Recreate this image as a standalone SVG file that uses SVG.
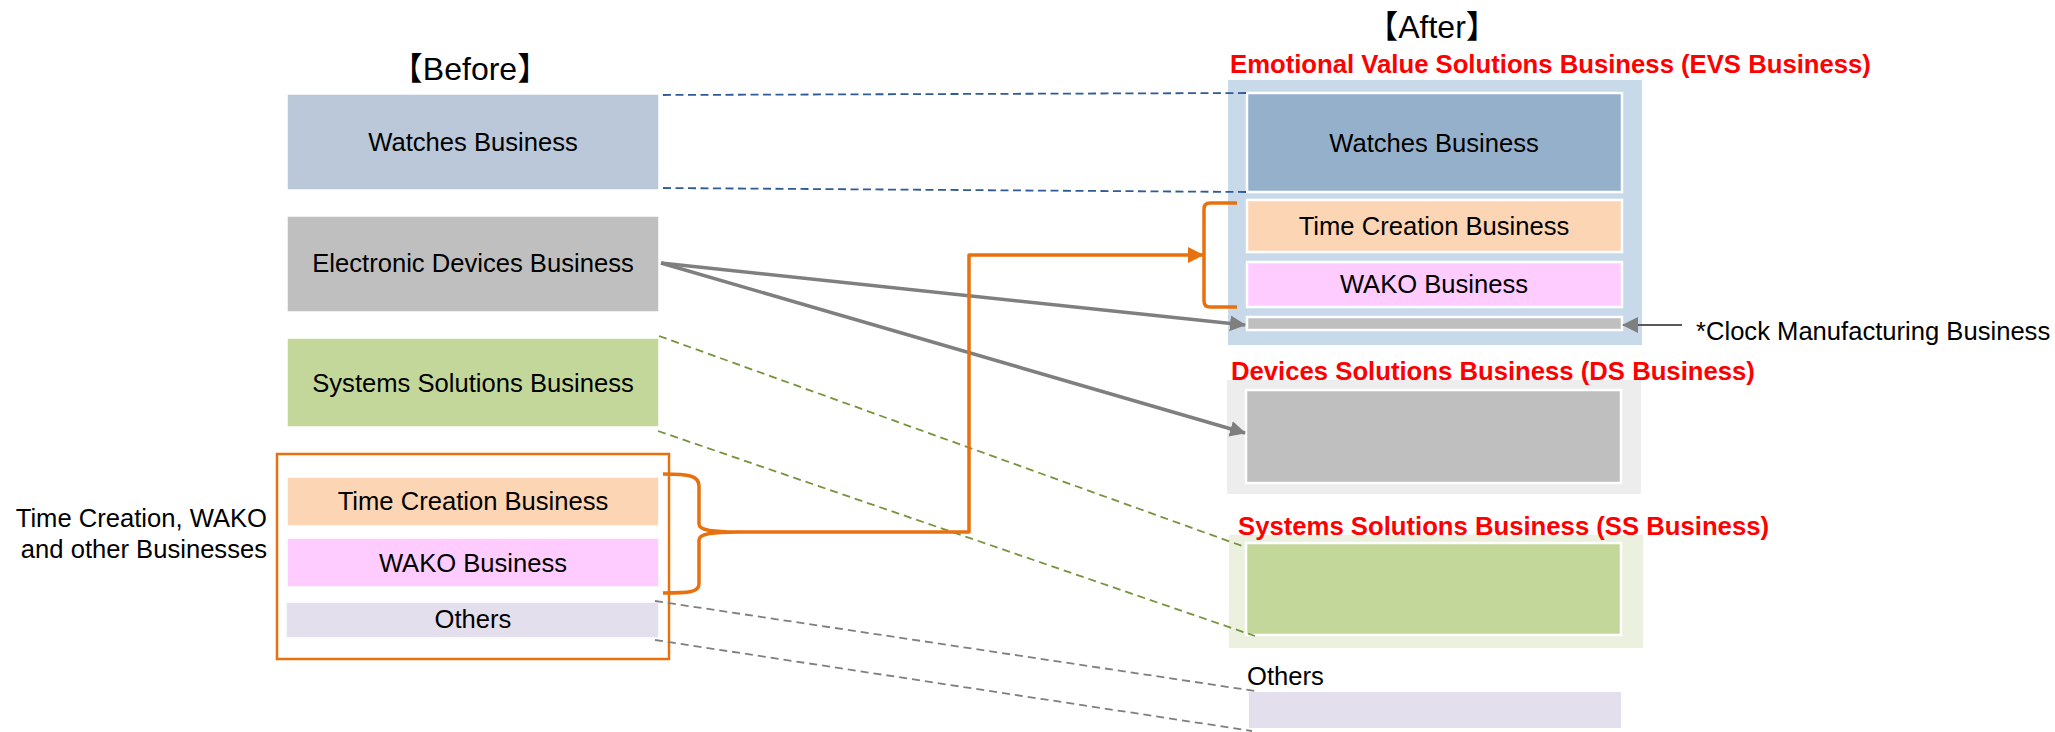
<svg xmlns="http://www.w3.org/2000/svg" width="2055" height="732" viewBox="0 0 2055 732">
<style>
text{font-family:"Liberation Sans","Noto Sans CJK JP",Arial,sans-serif;fill:#000}
.lbl{font-size:25.6px;text-anchor:middle}
.ttl{font-size:32px;text-anchor:middle}
.red{font-size:25.7px;font-weight:bold;fill:#FF0000}
.box{stroke:#FFFFFF;stroke-width:1.5}
.inner{stroke:#FFFFFF;stroke-width:2.5}
.orange{fill:none;stroke:#E8710F;stroke-width:3.5;stroke-linejoin:round}
.garrow{fill:none;stroke:#7F7F7F;stroke-width:3.5}
.bdash{fill:none;stroke:#2F5B96;stroke-width:1.8;stroke-dasharray:8 4.5}
.gdash{fill:none;stroke:#77933C;stroke-width:1.8;stroke-dasharray:8 5}
.kdash{fill:none;stroke:#7F7F7F;stroke-width:1.8;stroke-dasharray:8 5}
</style>
<defs>
<marker id="ag" markerUnits="userSpaceOnUse" markerWidth="16" markerHeight="16" viewBox="0 0 16 16" refX="15" refY="8" orient="auto">
<path d="M0,0 L16,8 L0,16 Z" fill="#7F7F7F"/>
</marker>
<marker id="ao" markerUnits="userSpaceOnUse" markerWidth="16" markerHeight="16" viewBox="0 0 16 16" refX="15" refY="8" orient="auto">
<path d="M0,0 L16,8 L0,16 Z" fill="#E8710F"/>
</marker>
</defs>
<rect width="2055" height="732" fill="#FFFFFF"/>

<text class="ttl" x="470" y="80">【Before】</text>
<text class="ttl" x="1432" y="38">【After】</text>

<g id="before-watches"><rect class="box" x="287" y="94" width="372" height="96" fill="#BAC8D9"/><text class="lbl" x="473" y="151">Watches Business</text></g>
<g id="before-electronic"><rect class="box" x="287" y="216" width="372" height="96" fill="#BFBFBF"/><text class="lbl" x="473" y="272">Electronic Devices Business</text></g>
<g id="before-systems"><rect class="box" x="287" y="338" width="372" height="89" fill="#C4D79B"/><text class="lbl" x="473" y="392">Systems Solutions Business</text></g>
<g id="before-group">
<rect x="277" y="454" width="392" height="205" fill="none" stroke="#E8710F" stroke-width="2.5"/>
<text font-size="25.6" text-anchor="end" x="267" y="527">Time Creation, WAKO</text>
<text font-size="25.6" text-anchor="end" x="267" y="558">and other Businesses</text>
</g>
<g id="before-time"><rect class="box" x="287" y="477" width="372" height="49" fill="#FCD5B4"/><text class="lbl" x="473" y="510">Time Creation Business</text></g>
<g id="before-wako"><rect class="box" x="287" y="538" width="372" height="49" fill="#FFCCFF"/><text class="lbl" x="473" y="572">WAKO Business</text></g>
<g id="before-others"><rect class="box" x="286" y="602" width="373" height="36" fill="#E4DFEC"/><text class="lbl" x="473" y="628">Others</text></g>

<g id="evs">
<rect x="1228" y="80" width="414" height="265" fill="#C8DAE9"/>
<text class="red" x="1230" y="73">Emotional Value Solutions Business (EVS Business)</text>
</g>
<g id="after-watches"><rect class="inner" x="1247" y="93" width="375" height="99" fill="#95B0CB"/><text class="lbl" x="1434" y="152">Watches Business</text></g>
<g id="after-time"><rect class="inner" x="1247" y="200" width="375" height="52" fill="#FCD5B4"/><text class="lbl" x="1434" y="235">Time Creation Business</text></g>
<g id="after-wako"><rect class="inner" x="1247" y="262" width="375" height="45" fill="#FFCCFF"/><text class="lbl" x="1434" y="293">WAKO Business</text></g>
<g id="after-clock"><rect class="inner" x="1247" y="317" width="375" height="13" fill="#BFBFBF"/></g>
<g id="clock-label"><text font-size="25.6" x="1696" y="340">*Clock Manufacturing Business</text></g>

<g id="ds">
<rect x="1227" y="380" width="414" height="114" fill="#EDEDED"/>
<rect class="inner" x="1246" y="390" width="375" height="93" fill="#BFBFBF"/>
<text class="red" x="1231" y="380">Devices Solutions Business (DS Business)</text>
</g>
<g id="ss">
<rect x="1229" y="535" width="414" height="113" fill="#EBF1DE"/>
<rect class="inner" x="1246" y="543" width="375" height="92" fill="#C4D79B"/>
<text class="red" x="1238" y="535">Systems Solutions Business (SS Business)</text>
</g>
<g id="after-others">
<text font-size="25.6" x="1247" y="685">Others</text>
<rect x="1249" y="692" width="372" height="36" fill="#E4DFEC"/>
</g>

<g id="connectors">
<line class="bdash" x1="663" y1="95" x2="1247" y2="93"/>
<line class="bdash" x1="663" y1="188" x2="1247" y2="192"/>
<line class="gdash" x1="659" y1="336" x2="1245" y2="547"/>
<line class="gdash" x1="658" y1="431" x2="1255" y2="636"/>
<line class="kdash" x1="655" y1="601" x2="1255" y2="691"/>
<line class="kdash" x1="655" y1="640" x2="1252" y2="731"/>
<line class="garrow" x1="661" y1="263" x2="1245" y2="325" marker-end="url(#ag)"/>
<line class="garrow" x1="661" y1="263" x2="1245" y2="433" marker-end="url(#ag)"/>
<line x1="1682" y1="325" x2="1623" y2="325" stroke="#595959" stroke-width="2" marker-end="url(#ag)"/>
<path class="orange" d="M663,474 C690,474 699,476 699,486 L699,524 C699,530 712,532 737,532 C712,532 699,534 699,540 L699,584 C699,592 690,593 663,593"/>
<path class="orange" d="M737,532 L969,532 L969,255 L1203,255" marker-end="url(#ao)"/>
<path class="orange" d="M1237,203 L1210,203 Q1204,203 1204,209 L1204,301 Q1204,307 1210,307 L1237,307"/>
</g>
</svg>
